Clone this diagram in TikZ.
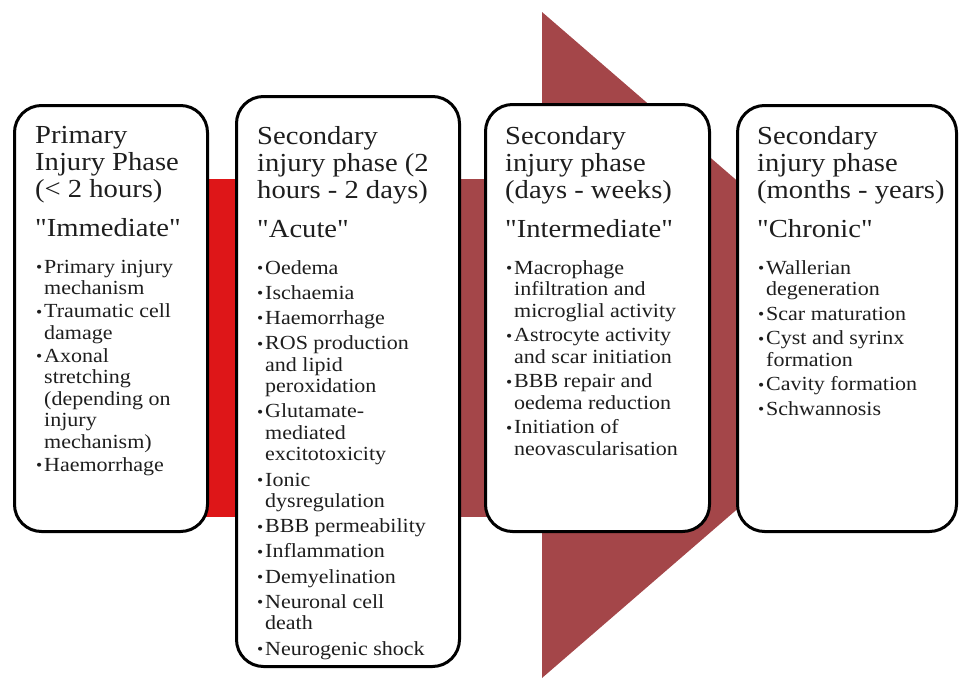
\documentclass[tikz,border=0pt]{standalone}
\usepackage{fontspec}
\usepackage{graphicx}
\setmainfont{Liberation Serif}[FakeStretch=1.1, Ligatures=TeXOff]
\definecolor{bandred}{RGB}{222,22,24}
\definecolor{bandmaroon}{RGB}{164,70,73}
\definecolor{txt}{RGB}{30,30,30}
\newcommand\phitem[1]{\makebox[8pt][l]{\raisebox{0.5pt}{\scalebox{0.8}{\textbullet}}}#1}
\newcommand\phcont[1]{\hspace*{8pt}#1}
\begin{document}
\begin{tikzpicture}[x=1pt,y=-1pt,
  phasebox/.style={draw=black, line width=3pt, rounded corners=27pt, fill=white, anchor=north west, inner sep=0pt},
  titletext/.style={anchor=north west, inner sep=0pt, align=left, text=txt, font=\fontsize{26}{27}\selectfont},
  bullettext/.style={anchor=north west, inner sep=0pt, align=left, text=txt, font=\fontsize{20}{21.5}\selectfont}]
\useasboundingbox (0,0) rectangle (962,678);
% band
\fill[bandred] (200,179) rectangle (340,517);
\fill[bandmaroon] (340,179) rectangle (545,517);
% arrow head
\fill[bandmaroon] (542,12) -- (927,345) -- (542,678) -- cycle;
% boxes
\node[phasebox, minimum width=193pt, minimum height=426pt] (b1) at (13,104) {};
\node[phasebox, minimum width=223pt, minimum height=570pt] (b2) at (235,95) {};
\node[phasebox, minimum width=224pt, minimum height=427pt] (b3) at (484,103) {};
\node[phasebox, minimum width=219pt, minimum height=426pt] (b4) at (736,104) {};
% box 1
\node[titletext] (t1) at (35,126) {Primary\\Injury Phase\\(< 2 hours)\\[12pt]"Immediate"};
\node[bullettext] (l1) at (36,260) {\phitem{Primary injury}\\\phcont{mechanism}\\[1.5pt]
\phitem{Traumatic cell}\\\phcont{damage}\\[1.5pt]
\phitem{Axonal}\\\phcont{stretching}\\\phcont{(depending on}\\\phcont{injury}\\\phcont{mechanism)}\\[1.5pt]
\phitem{Haemorrhage}};
% box 2
\node[titletext] (t2) at (257,126) {Secondary\\injury phase (2\\hours - 2 days)\\[12pt]"Acute"};
\node[bullettext] (l2) at (257,260) {\phitem{Oedema}\\[3.7pt]
\phitem{Ischaemia}\\[3.7pt]
\phitem{Haemorrhage}\\[3.7pt]
\phitem{ROS production}\\\phcont{and lipid}\\\phcont{peroxidation}\\[3.7pt]
\phitem{Glutamate-}\\\phcont{mediated}\\\phcont{excitotoxicity}\\[3.7pt]
\phitem{Ionic}\\\phcont{dysregulation}\\[3.7pt]
\phitem{BBB permeability}\\[3.7pt]
\phitem{Inflammation}\\[3.7pt]
\phitem{Demyelination}\\[3.7pt]
\phitem{Neuronal cell}\\\phcont{death}\\[3.7pt]
\phitem{Neurogenic shock}};
% box 3
\node[titletext] (t3) at (505,126) {Secondary\\injury phase\\(days - weeks)\\[12pt]"Intermediate"};
\node[bullettext] (l3) at (506,260) {\phitem{Macrophage}\\\phcont{infiltration and}\\\phcont{microglial activity}\\[3pt]
\phitem{Astrocyte activity}\\\phcont{and scar initiation}\\[3pt]
\phitem{BBB repair and}\\\phcont{oedema reduction}\\[3pt]
\phitem{Initiation of}\\\phcont{neovascularisation}};
% box 4
\node[titletext] (t4) at (757,126) {Secondary\\injury phase\\(months - years)\\[12pt]"Chronic"};
\node[bullettext] (l4) at (758,260) {\phitem{Wallerian}\\\phcont{degeneration}\\[3pt]
\phitem{Scar maturation}\\[3pt]
\phitem{Cyst and syrinx}\\\phcont{formation}\\[3pt]
\phitem{Cavity formation}\\[3pt]
\phitem{Schwannosis}};
\end{tikzpicture}
\end{document}
